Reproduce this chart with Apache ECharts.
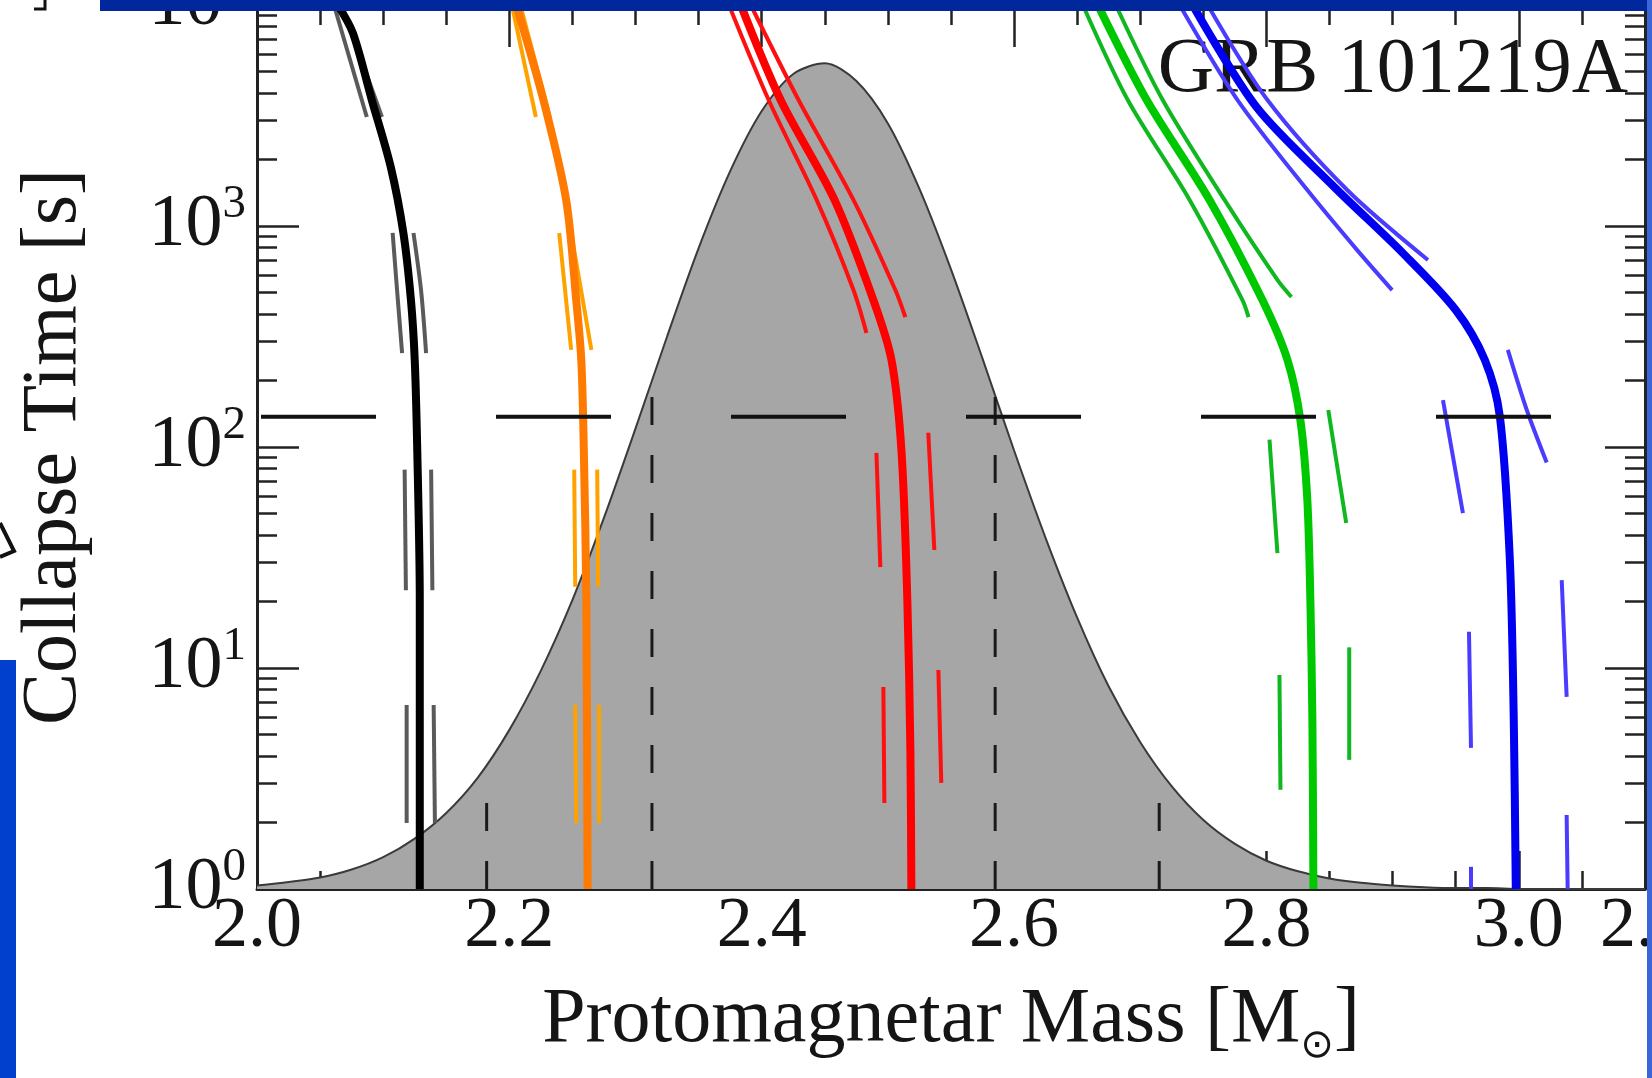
<!DOCTYPE html>
<html><head><meta charset="utf-8">
<script src="https://cdn.jsdelivr.net/npm/echarts@6/dist/echarts.min.js"></script>
<style>html,body{margin:0;padding:0;background:#fff;overflow:hidden}#c{width:1652px;height:1078px}</style>
</head><body><div id="c"></div>
<script>
// ---------------- data ----------------
const xTickLabels = ['2.0', '2.2', '2.4', '2.6', '2.8', '3.0'];
const xMinorTicks = [2.05, 2.1, 2.15, 2.25, 2.3, 2.35, 2.45, 2.5, 2.55, 2.65, 2.7, 2.75, 2.85, 2.9, 2.95, 3.05];
const yTickValues = [1, 10, 100, 1000, 10000];
const yMinorTicks = [2,3,4,5,6,7,8,9,20,30,40,50,60,70,80,90,200,300,400,500,600,700,800,900,2000,3000,4000,5000,6000,7000,8000,9000];

// mass distribution (shaded) – height as fraction of the plot height
const gaussMass = [2.000,2.025,2.050,2.075,2.100,2.125,2.150,2.175,2.200,2.225,2.250,2.275,2.300,2.325,2.350,2.375,2.400,2.425,2.450,2.475,2.500,2.525,2.550,2.575,2.600,2.625,2.650,2.675,2.700,2.725,2.750,2.775,2.800,2.825,2.850,2.875,2.900,2.925,2.950,2.975,3.000,3.050,3.100];
const gaussHeight = [0.004,0.008,0.013,0.022,0.036,0.057,0.086,0.126,0.180,0.247,0.327,0.420,0.521,0.625,0.725,0.812,0.880,0.922,0.934,0.914,0.866,0.792,0.701,0.600,0.496,0.397,0.307,0.229,0.166,0.116,0.078,0.051,0.032,0.020,0.012,0.007,0.004,0.002,0.001,0.001,0,0,0];
const sigmaMass = [2.182, 2.313, 2.585, 2.715];
const sigmaTop = [0.126, 0.562, 0.562, 0.126];

// observed duration (horizontal dashed line)
const durationTime = 137;

// collapse-time curves [mass, seconds]
const blackMain = [[2.064,10000],[2.076,7470],[2.091,3715],[2.106,1849],[2.116,930],[2.122,462],[2.125,248],[2.127,97],[2.129,20.3],[2.129,1]];
const blackLeft = [[[2.061,10000],[2.087,3113]],[[2.1075,930],[2.111,513],[2.115,266]],[[2.117,79],[2.118,22.5]],[[2.1186,6.8],[2.1186,1.99]]];
const blackRight = [[[2.067,10000],[2.099,3113]],[[2.124,930],[2.130,513],[2.134,266]],[[2.138,79],[2.139,22.5]],[[2.140,6.8],[2.141,1.99]]];

const orangeMain = [[2.2055,10000],[2.227,3715],[2.245,1312],[2.253,462],[2.257,248],[2.259,97],[2.261,20.3],[2.262,1]];
const orangeLeft = [[[2.202,10000],[2.221,3113]],[[2.2395,930],[2.249,275]],[[2.2514,79],[2.2522,23.3]],[[2.2522,6.8],[2.253,1.99]]];
const orangeRight = [[[2.2087,10000],[2.232,3113]],[[2.249,930],[2.265,275]],[[2.2696,79],[2.2704,23.3]],[[2.2711,6.8],[2.2711,1.99]]];

const redMain = [[2.3834,10000],[2.415,3715],[2.4577,1312],[2.4885,462],[2.5028,248],[2.5107,97],[2.5154,20.3],[2.5178,4.26],[2.5186,1]];
const redLeft = [[[2.374,10000],[2.4055,3715],[2.4435,1312],[2.4727,513],[2.483,328]],[[2.4909,94],[2.494,28.6]],[[2.4964,8.2],[2.4972,2.45]]];
const redRight = [[[2.3913,10000],[2.4292,3715],[2.4727,1312],[2.5059,513],[2.5138,387]],[[2.532,116],[2.5368,34.2]],[[2.540,9.8],[2.5423,3.02]]];

const greenMain = [[2.6664,10000],[2.7051,3715],[2.7549,1312],[2.7968,462],[2.8166,248],[2.8269,132],[2.8324,57.5],[2.8348,20.3],[2.8364,5.8],[2.8372,1]];
const greenLeft = [[[2.6545,10000],[2.6901,3715],[2.7391,1312],[2.781,462],[2.7858,387]],[[2.8024,108],[2.8087,33.1]],[[2.8103,9.3],[2.8111,2.81]]];
const greenRight = [[[2.6806,10000],[2.7178,3715],[2.7668,1312],[2.8087,570],[2.8198,477]],[[2.849,147],[2.8632,45.3]],[[2.8656,12.4],[2.8656,3.84]]];

const blueMain = [[2.7415,10000],[2.7921,3453],[2.8538,1500],[2.908,755],[2.95,417],[2.973,248],[2.985,137],[2.9929,30.8],[2.996,5.8],[2.9976,1]];
const blueLeft = [[[2.7312,10000],[2.7771,3715],[2.8324,1455],[2.8719,778],[2.8996,513]],[[2.9399,163],[2.9557,50.2]],[[2.9605,14.6],[2.9621,4.35]],[[2.9621,1.26],[2.9621,1]]];
const blueRight = [[[2.7534,10000],[2.8008,3715],[2.864,1455],[2.928,702]],[[2.9913,275],[3.0063,147],[3.0221,85]],[[3.034,25.0],[3.0379,7.4]],[[3.0379,2.16],[3.0387,1]]];

// ---------------- chart ----------------
const FONT = "'Liberation Serif','Times New Roman',serif";
const INK = '#151515';
const chart = echarts.init(document.getElementById('c'), null, {renderer: 'canvas'});

function lineSeries(data, color, width, z, extra) {
  return Object.assign({
    type: 'line', data: data, xAxisIndex: 0, yAxisIndex: 0,
    showSymbol: false, symbol: 'none', smooth: 0.3, silent: true, animation: false,
    lineStyle: {color: color, width: width, cap: 'butt'}, z: z
  }, extra || {});
}

const series = [];
series.push({
  type: 'line', xAxisIndex: 0, yAxisIndex: 4, data: gaussMass.map((m, i) => [m, gaussHeight[i]]),
  showSymbol: false, symbol: 'none', smooth: 0.3, silent: true, animation: false,
  lineStyle: {color: '#3a3a3a', width: 2}, areaStyle: {color: '#a6a6a6', opacity: 1}, z: 1
});
sigmaMass.forEach((m, i) => {
  series.push({
    type: 'line', xAxisIndex: 0, yAxisIndex: 4, data: [[m, 0], [m, sigmaTop[i]]],
    showSymbol: false, symbol: 'none', silent: true, animation: false,
    lineStyle: {color: '#1a1a1a', width: 3, type: [28, 30], cap: 'butt'}, z: 2
  });
});
const groups = [
  {main: blackMain, left: blackLeft, right: blackRight, c: '#000000', s: '#5a5a5a'},
  {main: orangeMain, left: orangeLeft, right: orangeRight, c: '#ff7a00', s: '#ffa200'},
  {main: redMain, left: redLeft, right: redRight, c: '#ff0000', s: '#ff1010'},
  {main: greenMain, left: greenLeft, right: greenRight, c: '#00c800', s: '#10b820'},
  {main: blueMain, left: blueLeft, right: blueRight, c: '#0000f0', s: '#4a3cff'}
];
groups.forEach(g => {
  g.left.concat(g.right).forEach(segPts => series.push(lineSeries(segPts, g.s, 4, 3)));
  series.push(lineSeries(g.main, g.c, 8, 4));
});
series.push(lineSeries([[2.0, durationTime], [3.1, durationTime]], '#111111', 4, 5,
  {smooth: false, lineStyle: {color: '#111111', width: 4, type: [115, 120], dashOffset: 231, cap: 'butt'}}));

const tickLine = {color: '#222', width: 2.5};
const noLabel = {show: false};
const noSplit = {show: false};

chart.setOption({
  animation: false,
  backgroundColor: '#ffffff',
  grid: {left: 257, right: 7, top: 5, bottom: 189, containLabel: false, outerBoundsMode: 'none'},
  xAxis: [
    {type: 'value', position: 'bottom', min: 2.0, max: 3.1, interval: 0.2,
     axisLine: {show: true, onZero: false, lineStyle: {color: '#222', width: 3}},
     axisTick: {show: true, inside: true, length: 38, lineStyle: tickLine},
     axisLabel: {show: true, margin: 2, showMaxLabel: false, color: INK, fontFamily: FONT, fontSize: 72,
                 formatter: v => { const s = v.toFixed(1); return xTickLabels.indexOf(s) >= 0 ? s : ''; }},
     splitLine: noSplit,
     name: '{a|Protomagnetar Mass [M}{o|⊙}{a|]}', nameLocation: 'middle', nameGap: 86,
     nameTextStyle: {color: INK, rich: {
       a: {fontFamily: FONT, fontSize: 78, lineHeight: 92, color: INK},
       o: {fontFamily: "'DejaVu Sans',sans-serif", fontSize: 40, lineHeight: 40, verticalAlign: 'bottom', color: INK}}}},
    {type: 'value', position: 'bottom', min: 2.0, max: 3.1,
     axisLine: {show: false, onZero: false}, axisLabel: noLabel, splitLine: noSplit,
     axisTick: {show: true, inside: true, length: 18, lineStyle: tickLine, customValues: xMinorTicks}},
    {type: 'value', position: 'top', min: 2.0, max: 3.1, interval: 0.2,
     axisLine: {show: true, onZero: false, lineStyle: {color: '#222', width: 3}},
     axisTick: {show: true, inside: true, length: 42, lineStyle: tickLine}, axisLabel: noLabel, splitLine: noSplit},
    {type: 'value', position: 'top', min: 2.0, max: 3.1,
     axisLine: {show: false, onZero: false}, axisLabel: noLabel, splitLine: noSplit,
     axisTick: {show: true, inside: true, length: 20, lineStyle: tickLine, customValues: xMinorTicks}}
  ],
  yAxis: [
    {type: 'log', logBase: 10, position: 'left', min: 1, max: 10000,
     axisLine: {show: true, onZero: false, lineStyle: {color: '#222', width: 3}},
     axisTick: {show: true, inside: true, length: 42, lineStyle: tickLine},
     axisLabel: {show: true, margin: 11, color: INK,
       formatter: v => '{b|10}{s|' + Math.round(Math.log10(v)) + '}',
       rich: {b: {fontFamily: FONT, fontSize: 74, lineHeight: 90, color: INK},
              s: {fontFamily: FONT, fontSize: 47, lineHeight: 46, verticalAlign: 'top', color: INK}}},
     splitLine: noSplit,
     name: 'Collapse Time [s]', nameLocation: 'middle', nameGap: 163,
     nameTextStyle: {fontFamily: FONT, fontSize: 78, color: INK}},
    {type: 'value', position: 'left', min: 0, max: 4,
     axisLine: {show: false, onZero: false}, axisLabel: noLabel, splitLine: noSplit,
     axisTick: {show: true, inside: true, length: 20, lineStyle: tickLine, customValues: yMinorTicks.map(v => Math.log10(v))}},
    {type: 'log', logBase: 10, position: 'right', min: 1, max: 10000,
     axisLine: {show: true, onZero: false, lineStyle: {color: '#222', width: 3}},
     axisTick: {show: true, inside: true, length: 40, lineStyle: tickLine}, axisLabel: noLabel, splitLine: noSplit},
    {type: 'value', position: 'right', min: 0, max: 4,
     axisLine: {show: false, onZero: false}, axisLabel: noLabel, splitLine: noSplit,
     axisTick: {show: true, inside: true, length: 20, lineStyle: tickLine, customValues: yMinorTicks.map(v => Math.log10(v))}},
    {type: 'value', min: 0, max: 1, show: false}
  ],
  graphic: [
    {type: 'text', x: 1628, y: 71, z: 1, silent: true,
     style: {text: 'GRB 101219A', fill: INK, font: "78px 'Liberation Serif', serif",
             align: 'right', verticalAlign: 'middle', textAlign: 'right', textVerticalAlign: 'middle'}},
    {type: 'text', x: 1645, y: 891, z: 1, silent: true,
     style: {text: '2.0', fill: INK, font: "72px 'Liberation Serif', serif",
             align: 'center', verticalAlign: 'top', textAlign: 'center', textVerticalAlign: 'top'}},
    {type: 'rect', z: 100, silent: true, shape: {x: 100, y: 0, width: 1552, height: 11}, style: {fill: '#00289c'}},
    {type: 'rect', z: 100, silent: true, shape: {x: 0, y: 660, width: 16, height: 418}, style: {fill: '#0040cc'}},
    {type: 'rect', z: 100, silent: true, shape: {x: 1647, y: 0, width: 5, height: 1078}, style: {fill: '#3a66d8'}},
    {type: 'polyline', z: 100, silent: true, shape: {points: [[34, 9], [45, 9], [45, 0]]}, style: {stroke: '#111', lineWidth: 3, fill: null}},
    {type: 'polyline', z: 100, silent: true, shape: {points: [[0, 523], [14, 551], [0, 557]]}, style: {stroke: '#111', lineWidth: 4, fill: null}}
  ],
  series: series
});
</script></body></html>
